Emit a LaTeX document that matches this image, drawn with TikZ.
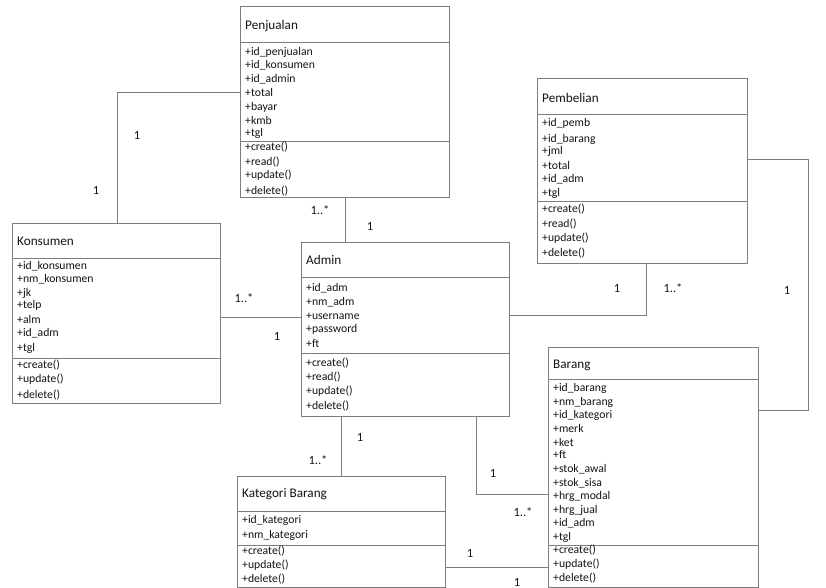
\documentclass[tikz,border=0pt]{standalone}
\usepackage{fontspec}
\setmainfont{Carlito}
\begin{document}
\begin{tikzpicture}[x=1pt,y=-1pt,
  cls/.style={draw=linegray, line width=1pt, inner sep=0pt, outer sep=0pt, anchor=north west, fill=white},
  divl/.style={draw=linegray, line width=1pt},
  conn/.style={draw=linegray, line width=1pt},
  ttl/.style={anchor=west, inner sep=0pt, font=\fontsize{13.2}{13.2}\selectfont, text=txt},
  itm/.style={anchor=west, inner sep=0pt, font=\fontsize{11.7}{11.7}\selectfont, text=txt},
  mult/.style={inner sep=0pt, font=\fontsize{12.5}{12.5}\selectfont, text=txt}]
\definecolor{linegray}{RGB}{125,125,125}
\definecolor{txt}{RGB}{20,20,20}
\useasboundingbox (0,0) rectangle (826,588);

% ---- Penjualan ----
\node[cls, minimum width=209pt, minimum height=190pt] (pj) at (240,7) {};
\draw[divl] (240,43) -- (449,43);
\draw[divl] (240,142) -- (449,142);
\node[ttl] (pjt) at (245,26) {Penjualan};
\foreach \t/\y [count=\i] in {+id\_penjualan/52,+id\_konsumen/65,+id\_admin/79,+total/92,+bayar/107,+kmb/120,+tgl/133,+create()/147,+read()/162,+update()/175,+delete()/191}
  \node[itm] (pj\i) at (245,\y) {\t};

% ---- Pembelian ----
\node[cls, minimum width=210pt, minimum height=184pt] (pb) at (537,79) {};
\draw[divl] (537,115) -- (747,115);
\draw[divl] (537,201) -- (747,201);
\node[ttl] (pbt) at (542,98) {Pembelian};
\foreach \t/\y [count=\i] in {+id\_pemb/123,+id\_barang/139,+jml/151,+total/165,+id\_adm/179,+tgl/193,+create()/209,+read()/224,+update()/238,+delete()/253}
  \node[itm] (pb\i) at (542,\y) {\t};

% ---- Konsumen ----
\node[cls, minimum width=208pt, minimum height=180pt] (ks) at (12,223) {};
\draw[divl] (12,258) -- (220,258);
\draw[divl] (12,358) -- (220,358);
\node[ttl] (kst) at (17,241) {Konsumen};
\foreach \t/\y [count=\i] in {+id\_konsumen/266,+nm\_konsumen/279,+jk/293,+telp/305,+alm/319,+id\_adm/333,+tgl/348,+create()/365,+update()/379,+delete()/395}
  \node[itm] (ks\i) at (17,\y) {\t};

% ---- Admin ----
\node[cls, minimum width=208pt, minimum height=174pt] (ad) at (301,242) {};
\draw[divl] (301,277) -- (509,277);
\draw[divl] (301,353) -- (509,353);
\node[ttl] (adt) at (306,260) {Admin};
\foreach \t/\y [count=\i] in {+id\_adm/288,+nm\_adm/302,+username/316,+password/329,+ft/344,+create()/363,+read()/377,+update()/391,+delete()/406}
  \node[itm] (ad\i) at (306,\y) {\t};

% ---- Barang ----
\node[cls, minimum width=210pt, minimum height=240pt] (br) at (548,347) {};
\draw[divl] (548,379) -- (758,379);
\draw[divl] (548,545) -- (758,545);
\node[ttl] (brt) at (553,365) {Barang};
\foreach \t/\y [count=\i] in {+id\_barang/388,+nm\_barang/402,+id\_kategori/415,+merk/428,+ket/442,+ft/455,+stok\_awal/469,+stok\_sisa/483,+hrg\_modal/496,+hrg\_jual/510,+id\_adm/523,+tgl/537,+create()/550,+update()/564,+delete()/578}
  \node[itm] (br\i) at (553,\y) {\t};

% ---- Kategori Barang ----
\node[cls, minimum width=208pt, minimum height=111pt] (kb) at (237,476) {};
\draw[divl] (237,511) -- (445,511);
\draw[divl] (237,545) -- (445,545);
\node[ttl] (kbt) at (242,494) {Kategori Barang};
\foreach \t/\y [count=\i] in {+id\_kategori/520,+nm\_kategori/535,+create()/551,+update()/565,+delete()/579}
  \node[itm] (kb\i) at (242,\y) {\t};

% ---- connectors ----
\coordinate (c1) at (117,93);
\draw[conn] (ks.north -| c1) -- (c1) -- (pj.west |- c1);
\node[mult] (m1a) at (137,135) {1};
\node[mult] (m1b) at (96,190) {1};

\coordinate (c2) at (345,0);
\draw[conn] (pj.south -| c2) -- (ad.north -| c2);
\node[mult] (m2a) at (320,210) {1..*};
\node[mult] (m2b) at (370,226) {1};

\coordinate (c3) at (0,317);
\draw[conn] (ks.east |- c3) -- (ad.west |- c3);
\node[mult] (m3a) at (244,298) {1..*};
\node[mult] (m3b) at (277,336) {1};

\coordinate (c4) at (646,315);
\draw[conn] (ad.east |- c4) -- (c4) -- (pb.south -| c4);
\node[mult] (m4a) at (617,288) {1};
\node[mult] (m4b) at (673,288) {1..*};

\coordinate (c5a) at (808,160);
\coordinate (c5b) at (808,410);
\draw[conn] (pb.east |- c5a) -- (c5a) -- (c5b) -- (br.east |- c5b);
\node[mult] (m5) at (787,290) {1};

\coordinate (c6) at (341,0);
\draw[conn] (ad.south -| c6) -- (kb.north -| c6);
\node[mult] (m6a) at (360,437) {1};
\node[mult] (m6b) at (318,460) {1..*};

\coordinate (c7) at (476,494);
\draw[conn] (ad.south -| c7) -- (c7) -- (br.west |- c7);
\node[mult] (m7a) at (493,473) {1};
\node[mult] (m7b) at (523,512) {1..*};

\coordinate (c8) at (0,567);
\draw[conn] (kb.east |- c8) -- (br.west |- c8);
\node[mult] (m8a) at (470,553) {1};
\node[mult] (m8b) at (517,582) {1};
\end{tikzpicture}
\end{document}
